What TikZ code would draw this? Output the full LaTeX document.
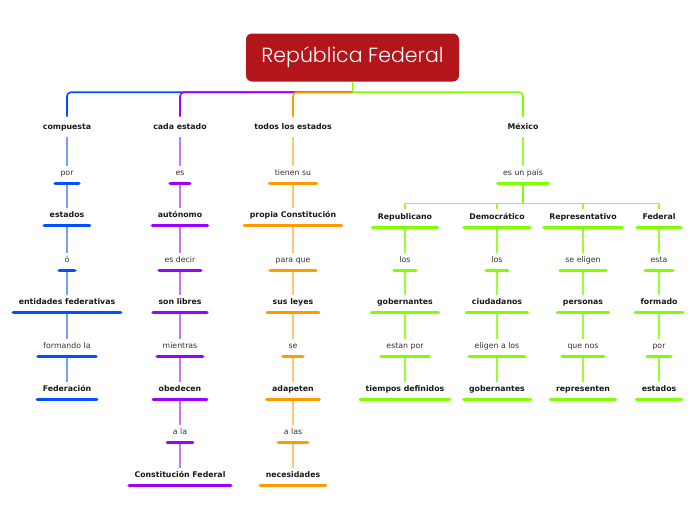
\documentclass[tikz,border=0pt]{standalone}
\usepackage{fontspec}
\setmainfont{DejaVu Sans}
\newfontfamily\titlefont{Poppins}[UprightFont=* Light]
\usepackage{tikz}
\usetikzlibrary{positioning}

\definecolor{cred}{HTML}{B3161A}
\definecolor{cblue}{HTML}{0050FF}
\definecolor{cpurple}{HTML}{9E00FF}
\definecolor{corange}{HTML}{FF9A00}
\definecolor{cgreen}{HTML}{7FFF00}

\begin{document}
\begin{tikzpicture}[x=1pt,y=-1pt,
  lbl/.style={inner xsep=5.25pt,inner ysep=6.5pt,text height=5.8pt,text depth=1.6pt},
  key/.style={lbl,font=\fontsize{7.8}{9}\selectfont\bfseries,text=black!90},
  link/.style={lbl,font=\fontsize{7.8}{9}\selectfont,text=black!80},
  title/.style={fill=cred,text=white,rounded corners=6pt,minimum width=213pt,
    minimum height=48pt,font=\titlefont\fontsize{20.5}{24}\selectfont},
  bar/.style={line width=3.5pt,line cap=round},
  wire/.style={line width=1.1pt,shorten >=-3.5pt},
  branch/.style={line width=1.6pt,rounded corners=4pt}]
\useasboundingbox (0,0) rectangle (696,520);

\node[title] (title) at (352.5,57.5) {República Federal};
\coordinate[below=10.5pt of title.south] (hub);

% compuesta
\node[key]  (a0) at (67,127) {compuesta};
\node[link] (a1) at (67,173) {por};
\node[key]  (a2) at (67,215) {estados};
\node[link] (a3) at (67,260) {ó};
\node[key]  (a4) at (67,302) {entidades federativas};
\node[link] (a5) at (67,346) {formando la};
\node[key]  (a6) at (67,389) {Federación};

% cada estado
\node[key]  (b0) at (180,127) {cada estado};
\node[link] (b1) at (180,173) {es};
\node[key]  (b2) at (180,215) {autónomo};
\node[link] (b3) at (180,260) {es decir};
\node[key]  (b4) at (180,302) {son libres};
\node[link] (b5) at (180,346) {mientras};
\node[key]  (b6) at (180,389) {obedecen};
\node[link] (b7) at (180,432) {a la};
\node[key]  (b8) at (180,475) {Constitución Federal};

% todos los estados
\node[key]  (c0) at (293,127) {todos los estados};
\node[link] (c1) at (293,173) {tienen su};
\node[key]  (c2) at (293,215) {propia Constitución};
\node[link] (c3) at (293,260) {para que};
\node[key]  (c4) at (293,302) {sus leyes};
\node[link] (c5) at (293,346) {se};
\node[key]  (c6) at (293,389) {adapeten};
\node[link] (c7) at (293,432) {a las};
\node[key]  (c8) at (293,475) {necesidades};

% México
\node[key]  (m0) at (523,127) {México};
\node[link] (m1) at (523,173) {es un país};
\coordinate[below=20pt of m1.south] (fk);

\node[key]  (r1) at (405,217) {Republicano};
\node[link] (r2) at (405,260) {los};
\node[key]  (r3) at (405,302) {gobernantes};
\node[link] (r4) at (405,346) {estan por};
\node[key]  (r5) at (405,389) {tiempos definidos};

\node[key]  (d1) at (497,217) {Democrático};
\node[link] (d2) at (497,260) {los};
\node[key]  (d3) at (497,302) {ciudadanos};
\node[link] (d4) at (497,346) {eligen a los};
\node[key]  (d5) at (497,389) {gobernantes};

\node[key]  (p1) at (583,217) {Representativo};
\node[link] (p2) at (583,260) {se eligen};
\node[key]  (p3) at (583,302) {personas};
\node[link] (p4) at (583,346) {que nos};
\node[key]  (p5) at (583,389) {representen};

\node[key]  (f1) at (659,217) {Federal};
\node[link] (f2) at (659,260) {esta};
\node[key]  (f3) at (659,302) {formado};
\node[link] (f4) at (659,346) {por};
\node[key]  (f5) at (659,389) {estados};

% branches from the title
\draw[branch,cblue] (hub) -| (a0.north);
\draw[branch,cpurple] (hub) -| (b0.north);
\draw[branch,corange] (hub) -| (c0.north);
\draw[line width=1.6pt,cgreen] (title.south) -- (hub);
\draw[branch,cgreen] (hub) -| (m0.north);

% links down each column
\foreach \j [remember=\j as \i (initially 0)] in {1,...,6}
  \draw[wire,cblue!55] (a\i.south) -- (a\j.north);
\foreach \j [remember=\j as \i (initially 0)] in {1,...,8}
  \draw[wire,cpurple!55] (b\i.south) -- (b\j.north);
\foreach \j [remember=\j as \i (initially 0)] in {1,...,8}
  \draw[wire,corange!55] (c\i.south) -- (c\j.north);
\draw[wire,cgreen!80] (m0.south) -- (m1.north);
\draw[line width=2pt,cgreen] (m1.south) -- (fk);
\draw[line width=1.1pt,cgreen!80] (fk -| r1) -- (fk -| f1);
\foreach \n in {r,d,p,f}{
  \draw[wire,cgreen!80,shorten >=-2pt] (fk -| \n1) -- (\n1.north);
  \foreach \j [remember=\j as \i (initially 1)] in {2,...,5}
    \draw[wire,cgreen!80] (\n\i.south) -- (\n\j.north);
}

% underline bars
\foreach \n in {1,...,6}
  \draw[bar,cblue] (a\n.south west) -- (a\n.south east);
\foreach \n in {1,...,8}{
  \draw[bar,cpurple] (b\n.south west) -- (b\n.south east);
  \draw[bar,corange] (c\n.south west) -- (c\n.south east);
}
\draw[bar,cgreen] (m1.south west) -- (m1.south east);
\foreach \n in {r,d,p,f}
  \foreach \k in {1,...,5}
    \draw[bar,cgreen] (\n\k.south west) -- (\n\k.south east);
\end{tikzpicture}
\end{document}
